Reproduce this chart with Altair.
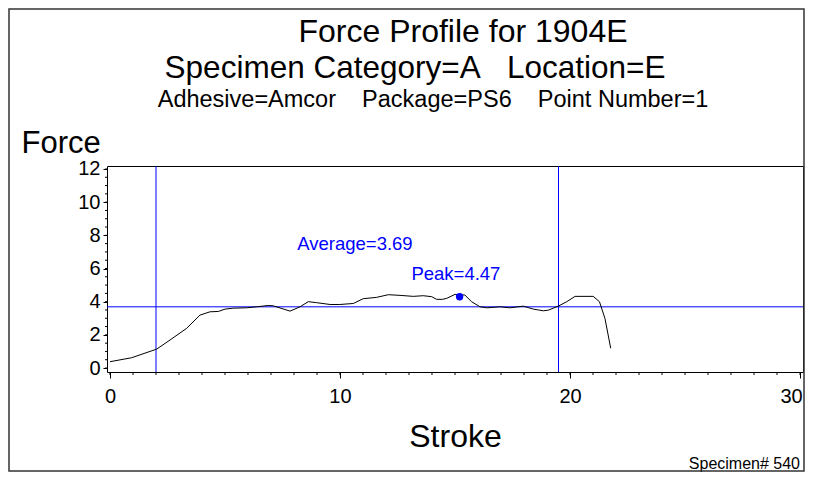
import altair as alt
import pandas as pd

# ---- data ----
stroke = [0, 0.94, 2.03, 2.61, 3.33, 3.91, 4.35, 4.71, 5.0, 5.36, 5.94, 6.38, 6.88, 7.1,
          7.83, 8.26, 8.62, 8.98, 9.57, 9.99, 10.58, 11.01, 11.59, 12.1, 12.61, 13.19,
          13.62, 13.99, 14.2, 14.45, 14.64, 15.0, 15.43, 15.72, 16.09, 16.38, 16.96,
          17.39, 17.97, 18.41, 18.84, 19.06, 19.49, 19.86, 20.22, 21.01, 21.28, 21.52, 21.77]
force = [0.38, 0.62, 1.14, 1.69, 2.39, 3.19, 3.39, 3.41, 3.55, 3.61, 3.63, 3.69, 3.77, 3.75,
         3.43, 3.69, 4.0, 3.94, 3.83, 3.83, 3.89, 4.18, 4.26, 4.42, 4.38, 4.32,
         4.36, 4.3, 4.14, 4.14, 4.2, 4.44, 4.4, 4.0, 3.69, 3.63, 3.69,
         3.63, 3.73, 3.55, 3.45, 3.49, 3.73, 4.0, 4.32, 4.32, 4.0, 2.99, 1.19]

window_x = [2.0, 19.5]          # vertical reference lines
average = [3.69]                # horizontal reference line
peak_x = [15.2]
peak_y = [4.3]
ann_text = ["Average=3.69", "Peak=4.47"]
ann_x = [10.65, 15.04]
ann_y = [7.5, 5.66]

x_major = [0, 10, 20, 30]
x_minor = list(range(0, 31))
y_major = [0, 2, 4, 6, 8, 10, 12]
y_minor = [i * 0.5 for i in range(0, 25)]

title_lines = ["Force Profile for 1904E",
               "Specimen Category=A\u00a0\u00a0\u00a0Location=E",
               "Adhesive=Amcor\u00a0\u00a0\u00a0\u00a0Package=PS6\u00a0\u00a0\u00a0\u00a0Point Number=1"]
footer = ["Specimen# 540"]

FONT = "Liberation Sans"
W, H = 696, 206
PAD = {"left": 99, "top": 158, "right": 2, "bottom": 100}

curve = pd.DataFrame({"Stroke": stroke, "Force": force})

xs = alt.Scale(domain=[-0.13, 30.13], nice=False, zero=False)
ys = alt.Scale(domain=[-0.24, 12.18], nice=False, zero=False)

x_axis = alt.Axis(
    values=x_major, tickSize=6, labelFlush=False, labelOverlap=False,
    labelOffset={"condition": {"test": "datum.value == 30", "value": -9}, "value": 0},
    labelFontSize=20, labelFont=FONT, labelColor="black", tickColor="black",
    domain=False, grid=False, labelPadding=8, title="Stroke", titleFont=FONT,
    titleFontSize=32, titleFontWeight="normal", titleColor="black",
    titleBaseline="alphabetic", titleY=74,
)
y_axis = alt.Axis(
    values=y_major, tickSize=4, labelOverlap=False, labelFlush=False, labelBound=False,
    labelFontSize=20, labelFont=FONT,
    labelColor="black", tickColor="black", domain=False, grid=False, labelPadding=3,
    title="Force", titleFont=FONT, titleFontSize=31, titleFontWeight="normal",
    titleColor="black", titleAngle=0, titleAlign="left", titleBaseline="alphabetic",
    titleX=-86, titleY=-14,
)

X = lambda f: alt.X(f, scale=xs, axis=x_axis)
Y = lambda f: alt.Y(f, scale=ys, axis=y_axis)

line = alt.Chart(curve).mark_line(color="black", strokeWidth=1).encode(
    x=X("Stroke:Q"), y=Y("Force:Q"))

xminor = alt.Chart(pd.DataFrame({"v": x_minor})).mark_rule(color="black", strokeWidth=1).encode(
    x=X("v:Q"), y=alt.value(H), y2=alt.value(H + 3))
yminor = alt.Chart(pd.DataFrame({"v": y_minor})).mark_rule(color="black", strokeWidth=1).encode(
    y=Y("v:Q"), x=alt.value(-2), x2=alt.value(0))

vrules = alt.Chart(pd.DataFrame({"x": window_x})).mark_rule(color="#0000ff", strokeWidth=1).encode(
    x=X("x:Q"))
hrule = alt.Chart(pd.DataFrame({"y": average})).mark_rule(color="#0000ff", strokeWidth=1).encode(
    y=Y("y:Q"))

peak = alt.Chart(pd.DataFrame({"x": peak_x, "y": peak_y})).mark_point(
    filled=True, color="#0000ff", size=55, opacity=1).encode(x=X("x:Q"), y=Y("y:Q"))

ann = alt.Chart(pd.DataFrame({"t": ann_text, "x": ann_x, "y": ann_y})).mark_text(
    color="#0000ff", font=FONT, fontSize=18.5, align="center", baseline="middle").encode(
    x=X("x:Q"), y=Y("y:Q"), text="t:N")

def title_text(txt, size, cx, baseline_y):
    return alt.Chart(pd.DataFrame({"t": [txt]})).mark_text(
        font=FONT, fontSize=size, color="black", align="center", baseline="alphabetic").encode(
        text="t:N", x=alt.value(cx - 107), y=alt.value(baseline_y - 166))

t1 = title_text(title_lines[0], 32, 463, 42)
t2 = title_text(title_lines[1], 31.5, 415, 78)
t3 = title_text(title_lines[2], 23.5, 433, 107)

foot = alt.Chart(pd.DataFrame({"t": footer})).mark_text(
    font=FONT, fontSize=16, color="black", align="right", baseline="alphabetic").encode(
    text="t:N", x=alt.value(800 - 107), y=alt.value(469 - 166))

frame = alt.Chart(pd.DataFrame({"a": [0]})).mark_rect(
    fill=None, filled=False, stroke="#333333", strokeWidth=1.5).encode(
    x=alt.value(-PAD["left"] + 1), x2=alt.value(W + PAD["right"] - 1),
    y=alt.value(-PAD["top"] + 1), y2=alt.value(H + PAD["bottom"] - 1))

chart = alt.layer(vrules, hrule, xminor, yminor, line, peak, ann, t1, t2, t3, foot, frame).properties(
    width=W, height=H, padding=PAD, autosize=alt.AutoSizeParams(type="none"),
    background="white",
).configure_view(stroke="black", strokeWidth=1).configure_axis(labelOverlap=False)

chart.save("out.html", embed_options={"renderer": "svg", "actions": False})
